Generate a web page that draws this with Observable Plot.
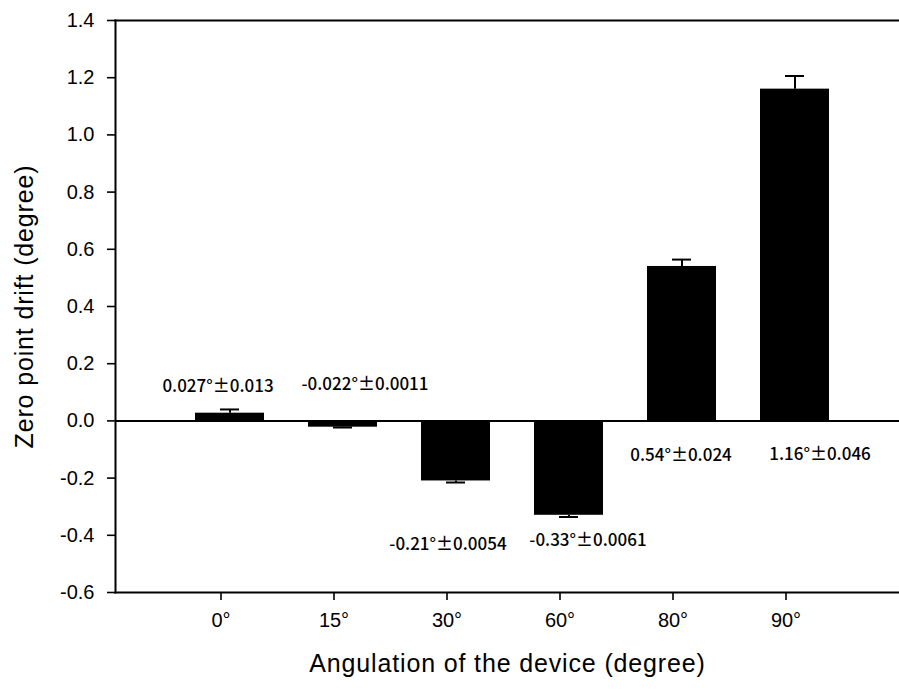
<!DOCTYPE html>
<html><head><meta charset="utf-8">
<script src="https://cdn.jsdelivr.net/npm/d3@7"></script>
<script src="https://cdn.jsdelivr.net/npm/@observablehq/plot@0.6"></script>
<style>
html,body{margin:0;padding:0;background:#fff;overflow:hidden}
</style>
</head><body><div id="chart"></div>
<script>
const categories = ["0°", "15°", "30°", "60°", "80°", "90°"];
const means = [0.027, -0.022, -0.21, -0.33, 0.54, 1.16];
const errors = [0.013, 0.0011, 0.0054, 0.0061, 0.024, 0.046];
const labels = ["0.027°±0.013", "-0.022°±0.0011", "-0.21°±0.0054", "-0.33°±0.0061", "0.54°±0.024", "1.16°±0.046"];
const labelY = [0.12, 0.127, -0.432, -0.418, -0.121, -0.116];
const yTicks = [-0.6, -0.4, -0.2, 0, 0.2, 0.4, 0.6, 0.8, 1.0, 1.2, 1.4];
const xTitle = "Angulation of the device (degree)";
const yTitle = "Zero point drift (degree)";

const data = categories.map((c, i) => ({
  cat: c, mean: means[i], err: errors[i],
  end: means[i] + Math.sign(means[i]) * errors[i]
}));
const labelData = categories.map((c, i) => ({cat: c, text: labels[i], y: labelY[i]}));
const labelDx = [-12, 22, -8, 19, -1, 25];

const plot = Plot.plot({
  width: 899,
  height: 691,
  marginLeft: 115,
  marginRight: 0,
  marginTop: 20,
  marginBottom: 99,
  style: {fontFamily: "'Liberation Sans', Arial, sans-serif", fontSize: "20px", background: "#fff", color: "#000"},
  x: {type: "band", domain: categories, paddingInner: 0.39, paddingOuter: 0.64, align: 0.53},
  y: {domain: [-0.6, 1.4]},
  marks: [
    Plot.barY(data, {x: "cat", y: "mean", fill: "#000"}),
    Plot.ruleX(data, {x: "cat", y1: "mean", y2: "end", stroke: "#000", strokeWidth: 2}),
    Plot.tickY(data, {x: "cat", y: "end", stroke: "#000", strokeWidth: 2, insetLeft: 25, insetRight: 25}),
    Plot.ruleY([0], {stroke: "#000", strokeWidth: 2}),
    Plot.frame({anchor: "top", stroke: "#000", strokeWidth: 2}),
    Plot.frame({anchor: "bottom", stroke: "#000", strokeWidth: 2}),
    Plot.frame({anchor: "left", stroke: "#000", strokeWidth: 2}),
    Plot.axisY({ticks: yTicks, tickFormat: d => d.toFixed(1), tickSize: 8, tickPadding: 13, fontSize: 20, strokeWidth: 1.6, label: null}),
    Plot.axisX({tickSize: 8, tickPadding: 12, fontSize: 20, strokeWidth: 1.6, dx: -9, label: null}),
    ...labelData.map((d, i) => Plot.text([d], {x: "cat", y: "y", text: "text", dx: labelDx[i],
      fontFamily: "'Noto Sans CJK KR', 'Noto Sans', sans-serif", fontSize: 17, fontWeight: 500, fill: "#000"})),
    Plot.text([xTitle], {text: d => d, frameAnchor: "bottom", dy: 71, fontSize: 25, fill: "#000", textAnchor: "middle", lineAnchor: "middle"}),
    Plot.text([yTitle], {text: d => d, frameAnchor: "left", dx: -91, rotate: -90, fontSize: 25, fill: "#000", textAnchor: "middle", lineAnchor: "middle"})
  ]
});
d3.select(plot).selectAll("text").filter(function() {
  const t = this.textContent;
  return t === xTitle || t === yTitle;
}).style("letter-spacing", "0.85px");
document.getElementById("chart").appendChild(plot);
</script>
</body></html>
